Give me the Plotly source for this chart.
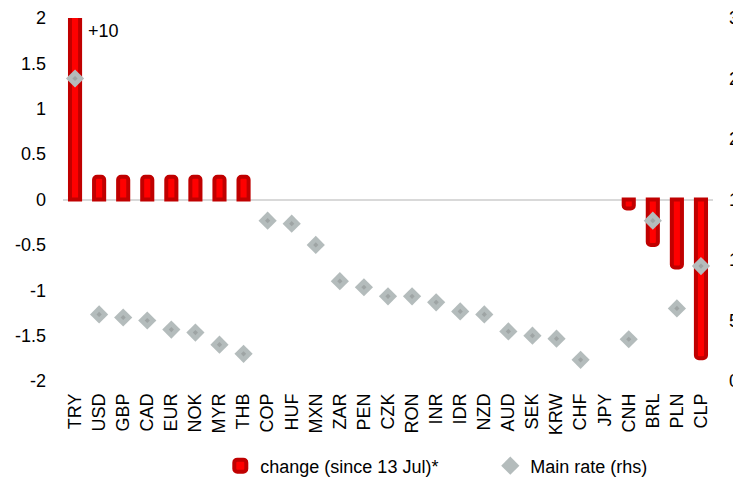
import plotly.graph_objects as go

# Currencies, policy-rate change since 13 Jul (pp) and current main policy rate (%)
currencies = ["TRY", "USD", "GBP", "CAD", "EUR", "NOK", "MYR", "THB", "COP", "HUF",
              "MXN", "ZAR", "PEN", "CZK", "RON", "INR", "IDR", "NZD", "AUD", "SEK",
              "KRW", "CHF", "JPY", "CNH", "BRL", "PLN", "CLP"]
rate_change = [10, 0.25, 0.25, 0.25, 0.25, 0.25, 0.25, 0.25, None, None,
               None, None, None, None, None, None, None, None, None, None,
               None, None, None, -0.1, -0.5, -0.75, -1.75]
main_rate = [25, 5.5, 5.25, 5.0, 4.25, 4.0, 3.0, 2.25, 13.25, 13.0,
             11.25, 8.25, 7.75, 7.0, 7.0, 6.5, 5.75, 5.5, 4.1, 3.75,
             3.5, 1.75, None, 3.45, 13.25, 6.0, 9.5]

left_ticks = [-2, -1.5, -1, -0.5, 0, 0.5, 1, 1.5, 2]
right_ticks = [0, 5, 10, 15, 20, 25, 30]

FONT = "Liberation Sans, Arial, sans-serif"
FS = 18
DARK_RED = "#C00000"
RED = "#FF0000"
GREY = "#B4BCBC"
GREY_DOT = "#9EA4A4"

fig = go.Figure()

fig.add_trace(go.Bar(
    x=currencies, y=rate_change, name="change (since 13 Jul)*",
    width=0.42,
    marker=dict(color=RED, line=dict(color=DARK_RED, width=4), cornerradius=3),
    yaxis="y",
))

fig.add_trace(go.Scatter(
    x=currencies, y=main_rate, name="Main rate (rhs)", mode="markers",
    marker=dict(symbol="diamond", size=14, color=GREY),
    yaxis="y2",
))
fig.add_trace(go.Scatter(
    x=currencies, y=main_rate, mode="markers", showlegend=False,
    marker=dict(symbol="diamond", size=4, color=GREY_DOT),
    yaxis="y2",
))

# TRY change runs off the scale; state its size next to the bar
fig.add_annotation(
    x=currencies[0], y=left_ticks[-1], xref="x", yref="y",
    text="+%d" % rate_change[0], showarrow=False,
    xanchor="left", yanchor="top", xshift=11, yshift=-1,
    font=dict(family=FONT, size=FS, color="#000000"),
)

fig.update_layout(
    width=733, height=478,
    margin=dict(l=63, r=20, t=18, b=97, autoexpand=False),
    paper_bgcolor="white", plot_bgcolor="white",
    font=dict(family=FONT, size=FS, color="#000000"),
    showlegend=True,
    legend=dict(
        orientation="h", x=0.242, xanchor="left", y=-0.234, yanchor="middle",
        font=dict(family=FONT, size=FS, color="#000000"),
        bgcolor="rgba(0,0,0,0)", itemwidth=30,
        entrywidth=225, entrywidthmode="pixels",
    ),
    xaxis=dict(
        tickangle=-90, showgrid=False, showline=False, ticks="",
        tickfont=dict(family=FONT, size=FS), range=[-0.5, len(currencies) - 0.5],
        ticklabelstandoff=8, automargin=False,
    ),
    yaxis=dict(
        range=[left_ticks[0], left_ticks[-1]], tickvals=left_ticks,
        ticktext=[("%g" % v) for v in left_ticks],
        showgrid=False, showline=False, ticks="",
        zeroline=True, zerolinecolor="#D9D9D9", zerolinewidth=2,
        tickfont=dict(family=FONT, size=FS), ticklabelstandoff=16,
        automargin=False,
    ),
    yaxis2=dict(
        range=[right_ticks[0], right_ticks[-1]], tickvals=right_ticks,
        overlaying="y", side="right", showgrid=False, showline=False,
        zeroline=False, ticks="", tickfont=dict(family=FONT, size=FS),
        ticklabelstandoff=15, automargin=False,
    ),
)

fig.write_html("out.html")
